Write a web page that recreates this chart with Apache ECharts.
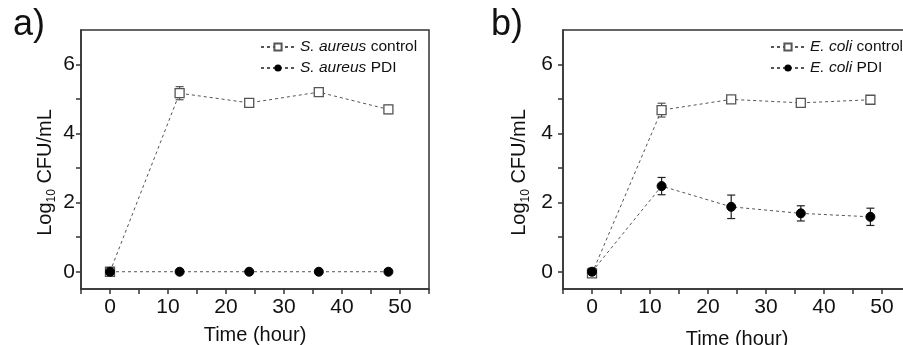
<!DOCTYPE html>
<html>
<head>
<meta charset="utf-8">
<script src="https://cdn.jsdelivr.net/npm/echarts@6/dist/echarts.min.js"></script>
<style>
  html, body { margin: 0; padding: 0; background: #fff; }
  #chart { width: 903px; height: 345px; }
</style>
</head>
<body>
<div id="chart"></div>
<script>
// time points (hour)
const hours = [0, 12, 24, 36, 48];

// panel a) S. aureus
const saControl = [0, 5.17, 4.89, 5.2, 4.7];
const saControlErr = [0.05, 0.19, 0.1, 0.07, 0.12];
const saPDI = [0, 0, 0, 0, 0];
const saPDIErr = [0, 0, 0, 0, 0];

// panel b) E. coli
const ecControl = [-0.05, 4.68, 4.99, 4.89, 4.98];
const ecControlErr = [0.1, 0.2, 0.05, 0.1, 0.1];
const ecPDI = [0, 2.48, 1.88, 1.69, 1.59];
const ecPDIErr = [0.1, 0.25, 0.34, 0.22, 0.25];

const xTicks = [-5, 0, 5, 10, 15, 20, 25, 30, 35, 40, 45, 50, 55];
const xLabels = [0, 10, 20, 30, 40, 50];
const yTicks = [0, 1, 2, 3, 4, 5, 6];
const yLabels = [0, 2, 4, 6];

const FONT = "'Liberation Sans', Arial, sans-serif";
const AX = '#333';
const GRAY = '#555';

const pairs = (ys) => hours.map((h, i) => [h, ys[i]]);
const errData = (ys, es) => hours.map((h, i) => [h, ys[i], es[i]]);

function errBars(idx, ys, es, color) {
  return {
    type: 'custom',
    xAxisIndex: idx, yAxisIndex: idx,
    data: errData(ys, es),
    z: 1,
    silent: true,
    renderItem: function (params, api) {
      const x = api.value(0), y = api.value(1), e = api.value(2);
      if (!e) return;
      const top = api.coord([x, y + e]);
      const bot = api.coord([x, y - e]);
      const st = { stroke: color, lineWidth: 1.2 };
      return {
        type: 'group',
        children: [
          { type: 'line', shape: { x1: top[0], y1: top[1], x2: bot[0], y2: bot[1] }, style: st },
          { type: 'line', shape: { x1: top[0] - 4, y1: top[1], x2: top[0] + 4, y2: top[1] }, style: st },
          { type: 'line', shape: { x1: bot[0] - 4, y1: bot[1], x2: bot[0] + 4, y2: bot[1] }, style: st }
        ]
      };
    }
  };
}

function ctrlSeries(idx, name, ys) {
  return {
    name: name, type: 'line', xAxisIndex: idx, yAxisIndex: idx,
    data: pairs(ys), symbol: 'rect', symbolSize: 9,
    lineStyle: { color: GRAY, width: 1, type: [3, 3] },
    itemStyle: { color: '#fff', borderColor: GRAY, borderWidth: 1.3 },
    z: 3
  };
}
function pdiSeries(idx, name, ys) {
  return {
    name: name, type: 'line', xAxisIndex: idx, yAxisIndex: idx,
    data: pairs(ys), symbol: 'circle', symbolSize: 9,
    lineStyle: { color: GRAY, width: 1, type: [3, 3] },
    itemStyle: { color: '#000', borderColor: '#000' },
    z: 4
  };
}

function xAxis(idx, gap) {
  return {
    type: 'value', gridIndex: idx, min: -5, max: 55,
    name: 'Time (hour)', nameLocation: 'middle', nameGap: gap,
    nameTextStyle: { fontFamily: FONT, fontSize: 20, color: '#111' },
    axisLine: { show: true, onZero: false, lineStyle: { color: AX, width: 1.5 } },
    axisTick: { show: true, customValues: xTicks, length: 5, lineStyle: { color: AX, width: 1.5 } },
    axisLabel: { customValues: xLabels, fontFamily: FONT, fontSize: 21, color: '#111', margin: 8 },
    splitLine: { show: false }
  };
}
function yAxis(idx, gap, margin) {
  return {
    type: 'value', gridIndex: idx, min: -0.5, max: 7,
    name: 'Log{sub|10} CFU/mL', nameLocation: 'middle', nameRotate: 90, nameGap: gap,
    nameTextStyle: {
      fontFamily: FONT, fontSize: 20, color: '#111', lineHeight: 26, padding: [0, 26, 0, 0],
      rich: { sub: { fontFamily: FONT, fontSize: 12, color: '#111', verticalAlign: 'bottom', lineHeight: 26 } }
    },
    axisLine: { show: true, onZero: false, lineStyle: { color: AX, width: 1.5 } },
    axisTick: { show: true, customValues: yTicks, length: 5, lineStyle: { color: AX, width: 1.5 } },
    axisLabel: { customValues: yLabels, fontFamily: FONT, fontSize: 21, color: '#111', margin: margin },
    splitLine: { show: false }
  };
}

const legendFmt = (name) => {
  const k = name.lastIndexOf(' ');
  return '{i|' + name.slice(0, k) + '} ' + name.slice(k + 1);
};
function legend(left, names) {
  return {
    left: left, top: 34, orient: 'vertical', itemGap: 5,
    itemWidth: 34, itemHeight: 9,
    data: names, formatter: legendFmt,
    textStyle: {
      fontFamily: FONT, fontSize: 15.5, color: '#111',
      rich: { i: { fontFamily: FONT, fontSize: 15.5, fontStyle: 'italic', color: '#111' } }
    }
  };
}

const chart = echarts.init(document.getElementById('chart'), null, { renderer: 'canvas' });
chart.setOption({
  backgroundColor: '#fff',
  animation: false,
  title: [
    { text: 'a)', left: 8, top: 2, textStyle: { fontFamily: FONT, fontSize: 36, fontWeight: 'normal', color: '#111' } },
    { text: 'b)', left: 486, top: 2, textStyle: { fontFamily: FONT, fontSize: 36, fontWeight: 'normal', color: '#111' } }
  ],
  legend: [
    legend(255, ['S. aureus control', 'S. aureus PDI']),
    legend(765, ['E. coli control', 'E. coli PDI'])
  ],
  grid: [
    { left: 81, top: 30, width: 348, height: 259, outerBoundsMode: 'none', containLabel: false, show: true, borderColor: AX, borderWidth: 1.5, backgroundColor: 'transparent' },
    { left: 563, top: 30, width: 348, height: 259, outerBoundsMode: 'none', containLabel: false, show: true, borderColor: AX, borderWidth: 1.5, backgroundColor: 'transparent' }
  ],
  xAxis: [xAxis(0, 36), xAxis(1, 40)],
  yAxis: [yAxis(0, 23, 6), yAxis(1, 31, 10)],
  series: [
    errBars(0, saControl, saControlErr, GRAY),
    errBars(0, saPDI, saPDIErr, '#222'),
    ctrlSeries(0, 'S. aureus control', saControl),
    pdiSeries(0, 'S. aureus PDI', saPDI),
    errBars(1, ecControl, ecControlErr, GRAY),
    errBars(1, ecPDI, ecPDIErr, '#222'),
    ctrlSeries(1, 'E. coli control', ecControl),
    pdiSeries(1, 'E. coli PDI', ecPDI)
  ]
});
</script>
</body>
</html>
